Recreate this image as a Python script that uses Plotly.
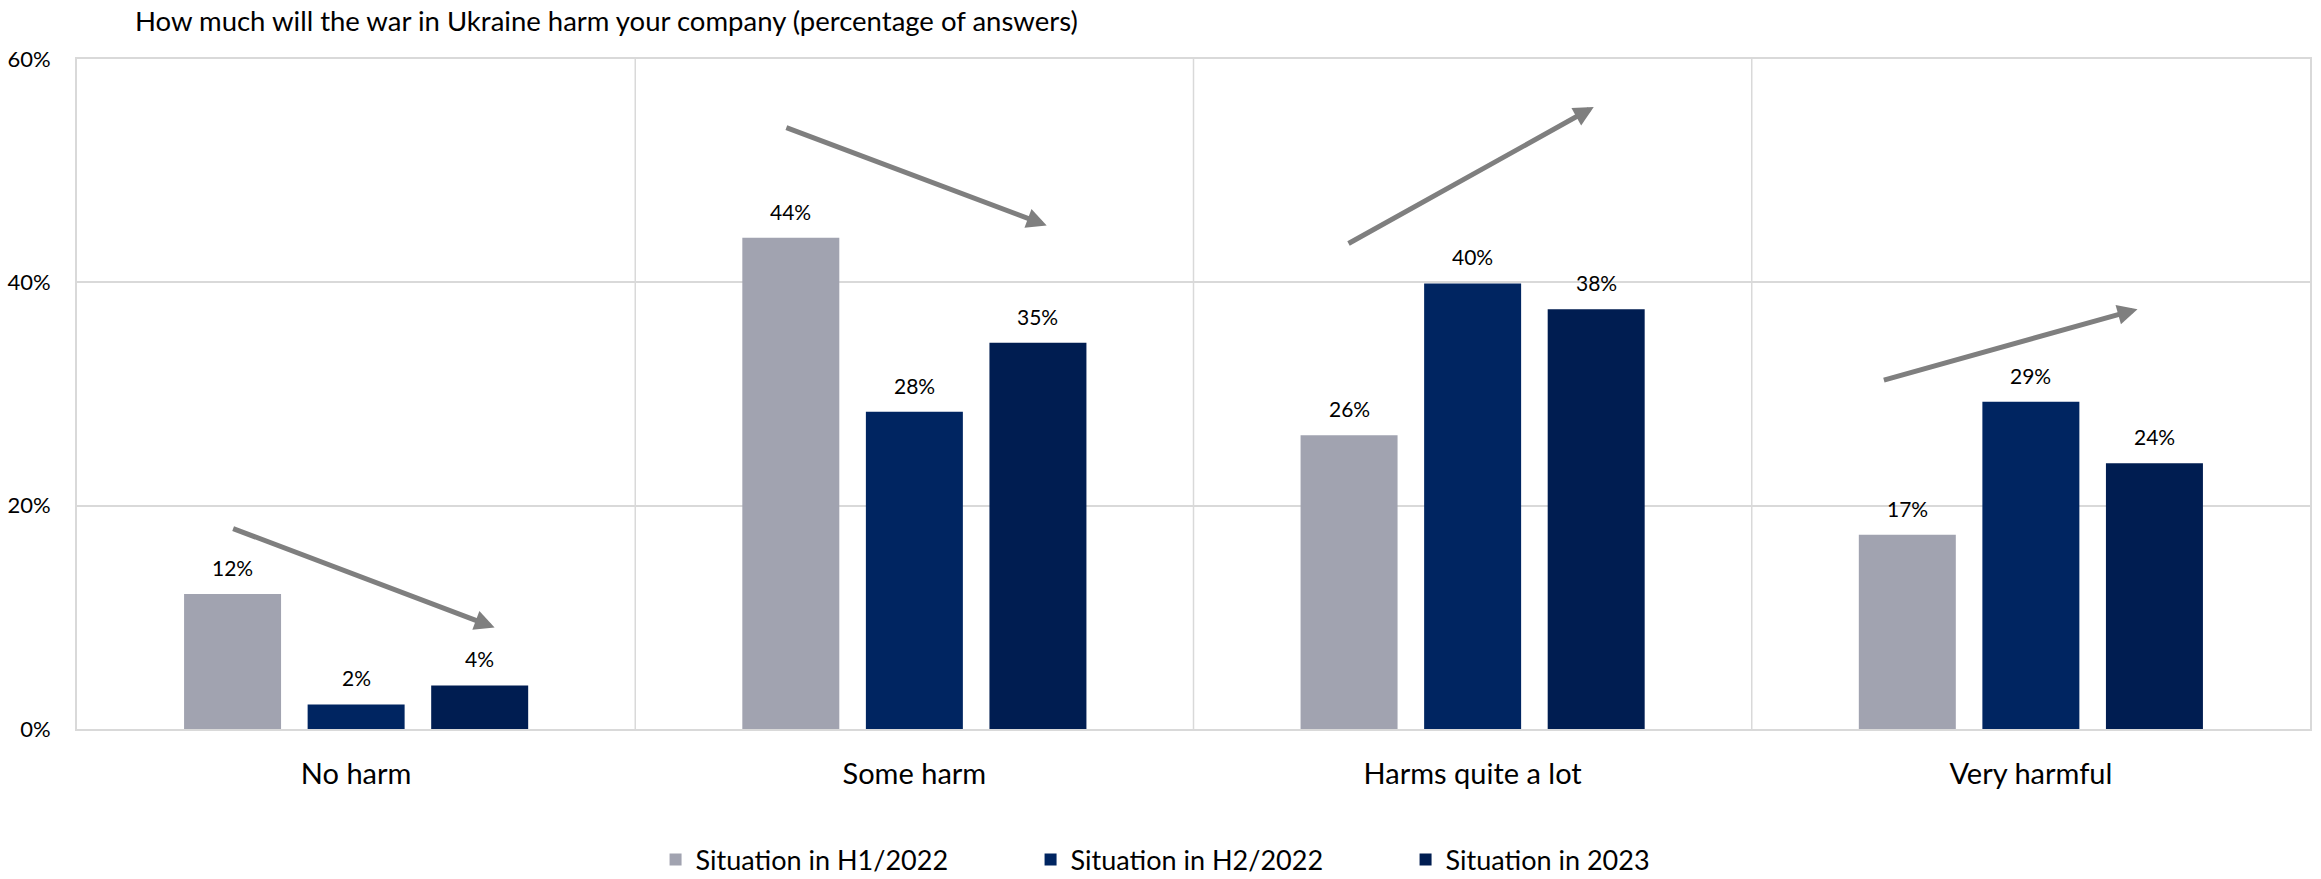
import plotly.graph_objects as go

# Survey results: share of answers per harm level, three survey waves
categories = ["No harm", "Some harm", "Harms quite a lot", "Very harmful"]
series_names = ["Situation in H1/2022", "Situation in H2/2022", "Situation in 2023"]
h1_2022 = [12.1, 44.0, 26.3, 17.4]
h2_2022 = [2.2, 28.4, 39.9, 29.3]
y_2023 = [3.9, 34.6, 37.6, 23.8]
y_ticks = [0, 20, 40, 60]
y_tick_labels = ["0%", "20%", "40%", "60%"]

# Trend arrows per category: (tail_x, tail_y, head_x, head_y) in axis units
trend_arrows = [
    (-0.223, 18.0, 0.248, 9.1),
    (0.768, 53.9, 1.237, 45.1),
    (1.775, 43.4, 2.217, 55.7),
    (2.734, 31.2, 3.191, 37.6),
]

colors = ["#A1A3B0", "#002561", "#001D51"]
FONT = "Lato"
BARGAP = 0.336
BARGROUPGAP = 0.215
GRID = "#D9D9D9"

series = [h1_2022, h2_2022, y_2023]

fig = go.Figure()
for name, vals, col in zip(series_names, series, colors):
    fig.add_trace(go.Bar(
        name=name, x=categories, y=vals,
        marker=dict(color=col, line=dict(width=0)),
        hoverinfo="skip",
    ))

annotations = []
# value labels above each bar, centred on the bar slot within its group
slot = (1 - BARGAP) / len(series)
for k, vals in enumerate(series):
    offset = (k - (len(series) - 1) / 2) * slot
    for i, v in enumerate(vals):
        annotations.append(dict(
            x=i + offset, y=v, xref="x", yref="y",
            text=f"{v:.0f}%", showarrow=False,
            yanchor="bottom", yshift=12,
            font=dict(family=FONT, size=21, color="#000000"),
        ))

for tx, ty, hx, hy in trend_arrows:
    annotations.append(dict(
        x=hx, y=hy, ax=tx, ay=ty,
        xref="x", yref="y", axref="x", ayref="y",
        text="", showarrow=True,
        arrowhead=2, arrowsize=0.8, arrowwidth=5,
        arrowcolor="#7F7F7F", standoff=0, startstandoff=0,
    ))

shapes = [
    dict(type="line", xref="x", yref="paper",
         x0=i + 0.5, x1=i + 0.5, y0=0, y1=1,
         line=dict(color=GRID, width=1.5), layer="below")
    for i in range(len(categories) - 1)
]

fig.update_layout(
    width=2321, height=879,
    margin=dict(l=77, r=11, t=59, b=150, autoexpand=False),
    paper_bgcolor="white", plot_bgcolor="white",
    barmode="group", bargap=BARGAP, bargroupgap=BARGROUPGAP,
    font=dict(family=FONT, color="#000000"),
    title=dict(
        text="How much will the war in Ukraine harm your company (percentage of answers)",
        xref="container", yref="container",
        x=135 / 2321, xanchor="left", y=1 - 21 / 879, yanchor="middle",
        font=dict(family=FONT, size=27.5, color="#000000"),
    ),
    xaxis=dict(
        showgrid=False, showline=True, mirror=True,
        linecolor=GRID, linewidth=2,
        ticks="", ticklabelstandoff=18,
        tickfont=dict(family=FONT, size=29, color="#000000"),
    ),
    yaxis=dict(
        range=[0, 60], tickvals=y_ticks, ticktext=y_tick_labels,
        showgrid=True, gridcolor=GRID, gridwidth=1.5,
        showline=True, mirror=True, linecolor=GRID, linewidth=2,
        zeroline=False, ticks="", ticklabelstandoff=20,
        tickfont=dict(family=FONT, size=22, color="#000000"),
    ),
    legend=dict(
        orientation="h", x=0.511, xanchor="center",
        xref="paper", yref="container",
        y=1 - 860 / 879, yanchor="middle",
        font=dict(family=FONT, size=27, color="#000000"),
        entrywidth=330, itemclick=False, itemdoubleclick=False,
    ),
    annotations=annotations,
    shapes=shapes,
    showlegend=True,
)

fig.write_html("out.html")
